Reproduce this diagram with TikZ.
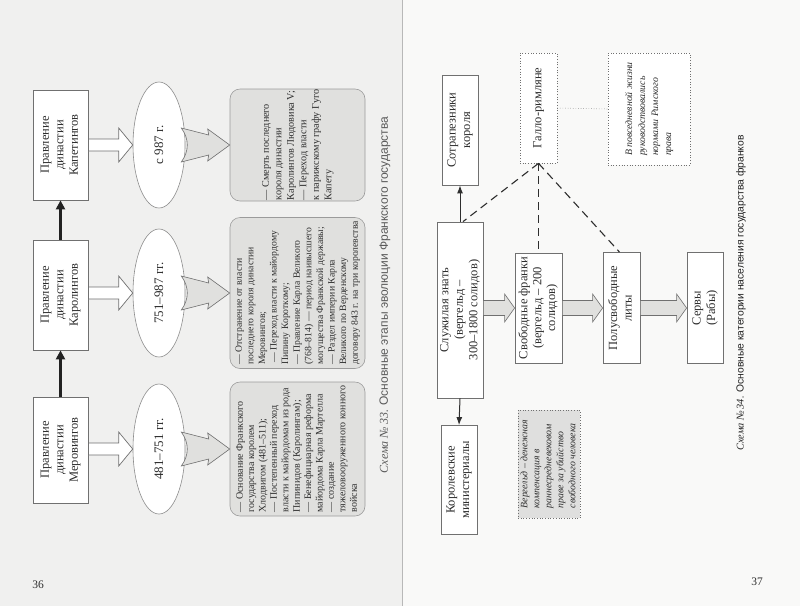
\documentclass[tikz,border=0pt]{standalone}
\usepackage{fontspec}
\setmainfont{Liberation Serif}
\newfontfamily\capfont{Liberation Sans}
\usepackage{graphicx}
\usetikzlibrary{shapes.geometric,calc,arrows.meta}
\definecolor{leftpage}{HTML}{F0F0EF}
\definecolor{rightpage}{HTML}{F9F9F8}
\definecolor{boxline}{HTML}{707070}
\definecolor{greyfill}{HTML}{E0E0DE}
\definecolor{darkarrow}{HTML}{222222}
\definecolor{inktext}{HTML}{2E2E2E}
\newcommand\rot[1]{\rotatebox{90}{#1}}
\newcommand\blockarr[6]{%
  \draw[#1] ($(#2)+(0,-#4)$) -- ($(#3)+(-#6,-#4)$) -- ($(#3)+(-#6,-#5)$) -- (#3)
    -- ($(#3)+(-#6,#5)$) -- ($(#3)+(-#6,#4)$) -- ($(#2)+(0,#4)$) -- cycle;}
\newcommand\greyarr[2]{%
  \draw[greyblock] ($(#1)+(-4,-17)$) -- ($(#2)+(-21,-10)$) -- ($(#2)+(-22,-16)$) -- (#2)
    -- ($(#2)+(-22,16)$) -- ($(#2)+(-21,10)$) -- ($(#1)+(-4,17)$)
    .. controls ($(#1)+(4,6)$) and ($(#1)+(4,-6)$) .. cycle;}
\begin{document}
\begin{tikzpicture}[x=1pt,y=-1pt,
  wbox/.style={draw=boxline, line width=0.8pt, fill=white, inner sep=0pt, text=inktext},
  dotbox/.style={draw=boxline, dotted, line width=0.7pt, fill=white, inner sep=0pt, text=inktext},
  gbox/.style={draw=boxline!70, line width=0.6pt, fill=greyfill, rounded corners=10pt, inner sep=0pt, text=inktext},
  oval/.style={ellipse, draw=boxline!80, line width=0.6pt, fill=white, inner sep=0pt, text=inktext},
  hollow/.style={draw=boxline, line width=0.7pt, fill=white},
  greyblock/.style={draw=boxline, line width=0.6pt, fill=greyfill},
  bigarrow/.style={darkarrow, line width=3pt, -{Triangle[length=9pt,width=9pt]}},
  thinarrow/.style={inktext, line width=1pt, -{Latex[length=8pt,width=6pt]}},
  dashline/.style={inktext, line width=1.1pt, dash pattern=on 8pt off 5pt},
  boxtext/.style={font=\fontsize{12.5}{14.5}\selectfont},
  ovaltext/.style={font=\fontsize{13}{15}\selectfont}
]
\useasboundingbox (0,0) rectangle (800,606);
% pages
\fill[leftpage] (0,0) rectangle (402,606);
\fill[rightpage] (402,0) rectangle (800,606);
\draw[boxline!50, line width=0.8pt] (402,0) -- (402,606);

% ---------- left page: Scheme 33 ----------
\node[wbox, boxtext, minimum width=55pt, minimum height=110pt] (capet) at (60.5,145)
  {\rot{\begin{tabular}{@{}c@{}}Правление\\династии\\Капетингов\end{tabular}}};
\node[wbox, boxtext, minimum width=55pt, minimum height=110pt] (carol) at (60.5,295)
  {\rot{\begin{tabular}{@{}c@{}}Правление\\династии\\Каролингов\end{tabular}}};
\node[wbox, boxtext, minimum width=55pt, minimum height=106pt] (merov) at (60.5,450)
  {\rot{\begin{tabular}{@{}c@{}}Правление\\династии\\Меровингов\end{tabular}}};

\draw[bigarrow] (merov.north) -- (carol.south);
\draw[bigarrow] (carol.north) -- (capet.south);

\node[oval, ovaltext, minimum width=52pt, minimum height=126pt] (ell1) at (159,145) {\rot{с 987 г.}};
\node[oval, ovaltext, minimum width=52pt, minimum height=128pt] (ell2) at (159,293) {\rot{751–987 гг.}};
\node[oval, ovaltext, minimum width=52pt, minimum height=130pt] (ell3) at (159,449) {\rot{481–751 гг.}};

\blockarr{hollow}{capet.east}{ell1.west}{6}{17}{14}
\path (carol.east |- ell2.west) coordinate (c2s);
\blockarr{hollow}{c2s}{ell2.west}{6}{17}{14}
\path (merov.east |- ell3.west) coordinate (c3s);
\blockarr{hollow}{c3s}{ell3.west}{6}{17}{14}

\node[gbox, font=\fontsize{10.2}{12.5}\selectfont, minimum width=135pt, minimum height=112pt] (gb1) at (297.5,145)
  {\rot{\begin{tabular}{@{}l@{}}— Смерть последнего\\короля династии\\Каролингов Людовика V;\\— Переход власти\\к парижскому графу Гуго\\Капету\end{tabular}}};
\node[gbox, font=\fontsize{9.7}{11.6}\selectfont, minimum width=135pt, minimum height=151pt] (gb2) at (297.5,293)
  {\rot{\begin{tabular}{@{}l@{}}— Отстранение от власти\\последнего короля династии\\Меровингов;\\\ — Переход власти к майордому\\Пипину Короткому;\\— Правление Карла Великого\\(768–814) — период наивысшего\\могущества Франкской державы;\\— Раздел империи Карла\\Великого по Верденскому\\договору 843 г. на три королевства\end{tabular}}};
\node[gbox, font=\fontsize{10}{11.4}\selectfont, minimum width=135pt, minimum height=134pt] (gb3) at (297.5,449)
  {\rot{\begin{tabular}{@{}l@{}}— Основание Франкского\\государства королем\\Хлодвигом (481–511);\\— Постепенный переход\\власти к майордомам из рода\\Пипинидов (Каролингам);\\— Бенефициарная реформа\\майордома Карла Мартелла\\— создание\\тяжеловооруженного конного\\войска\end{tabular}}};

\greyarr{ell1.east}{gb1.west}
\greyarr{ell2.east}{gb2.west}
\greyarr{ell3.east}{gb3.west}

\node[text=boxline!80!black, font=\capfont\fontsize{12}{14}\selectfont] (cap33) at (385,295)
  {\rot{{\rmfamily\itshape Схема №\,33.} Основные этапы эволюции Франкского государства}};
\node[text=inktext, font=\fontsize{11.5}{13}\selectfont] (p36) at (38,585) {36};

% ---------- right page: Scheme 34 ----------
\node[wbox, boxtext, minimum width=36pt, minimum height=110pt] (sotr) at (460,130)
  {\rot{\begin{tabular}{@{}c@{}}Сотрапезники\\короля\end{tabular}}};
\node[dotbox, boxtext, minimum width=37pt, minimum height=110pt] (gallo) at (538.5,108)
  {\rot{Галло-римляне}};
\node[dotbox, font=\itshape\fontsize{9.8}{13}\selectfont, minimum width=82pt, minimum height=112pt] (roman) at (649,109)
  {\rot{\begin{tabular}{@{}l@{}}В повседневной жизни\\руководствовались\\нормами Римского\\права\end{tabular}}};
\draw[boxline!80, dotted, line width=0.6pt] (gallo.east) -- (roman.west);

\node[wbox, font=\fontsize{12.5}{14.5}\selectfont, minimum width=46pt, minimum height=176pt] (sluzh) at (460,310)
  {\rot{\begin{tabular}{@{}c@{}}Служилая знать\\(вергельд –\\300–1800 солидов)\end{tabular}}};
\node[wbox, boxtext, minimum width=36pt, minimum height=109pt] (mini) at (459,480)
  {\rot{\begin{tabular}{@{}c@{}}Королевские\\министериалы\end{tabular}}};
\node[wbox, font=\fontsize{12.5}{13.8}\selectfont, minimum width=47pt, minimum height=110pt] (svob) at (538.5,308)
  {\rot{\begin{tabular}{@{}c@{}}Свободные франки\\(вергельд – 200\\солидов)\end{tabular}}};
\node[wbox, boxtext, minimum width=37pt, minimum height=111pt] (polu) at (621.5,308)
  {\rot{\begin{tabular}{@{}c@{}}Полусвободные\\литы\end{tabular}}};
\node[wbox, boxtext, minimum width=36pt, minimum height=111pt] (serv) at (705,308)
  {\rot{\begin{tabular}{@{}c@{}}Сервы\\(Рабы)\end{tabular}}};

\node[dotbox, fill=greyfill!90!black!60, font=\itshape\fontsize{9.8}{12}\selectfont, minimum width=62pt, minimum height=108pt] (verg) at (549,464)
  {\rot{\begin{tabular}{@{}l@{}}Вергельд – денежная\\компенсация в\\раннесредневековом\\праве за убийство\\свободного человека\end{tabular}}};

\draw[thinarrow] (sluzh.north) -- (sotr.south);
\draw[thinarrow] (sluzh.south) -- (mini.north);

\path (sluzh.east |- svob.west) coordinate (s1);
\blockarr{greyblock}{s1}{svob.west}{7.5}{14}{10}
\blockarr{greyblock}{svob.east}{polu.west}{7.5}{14}{10}
\blockarr{greyblock}{polu.east}{serv.west}{7.5}{14}{10}

\draw[dashline] (gallo.south) -- ($(sluzh.north)+(3,0)$);
\draw[dashline] (gallo.south) -- (svob.north);
\draw[dashline] (gallo.south) -- ($(polu.north)+(-2,0)$);

\node[text=darkarrow, font=\capfont\fontsize{10.3}{12}\selectfont] (cap34) at (741,293)
  {\rot{{\rmfamily\itshape Схема №\,34.} Основные категории населения государства франков}};
\node[text=inktext, font=\fontsize{11.5}{13}\selectfont] (p37) at (757,582) {37};
\end{tikzpicture}
\end{document}
